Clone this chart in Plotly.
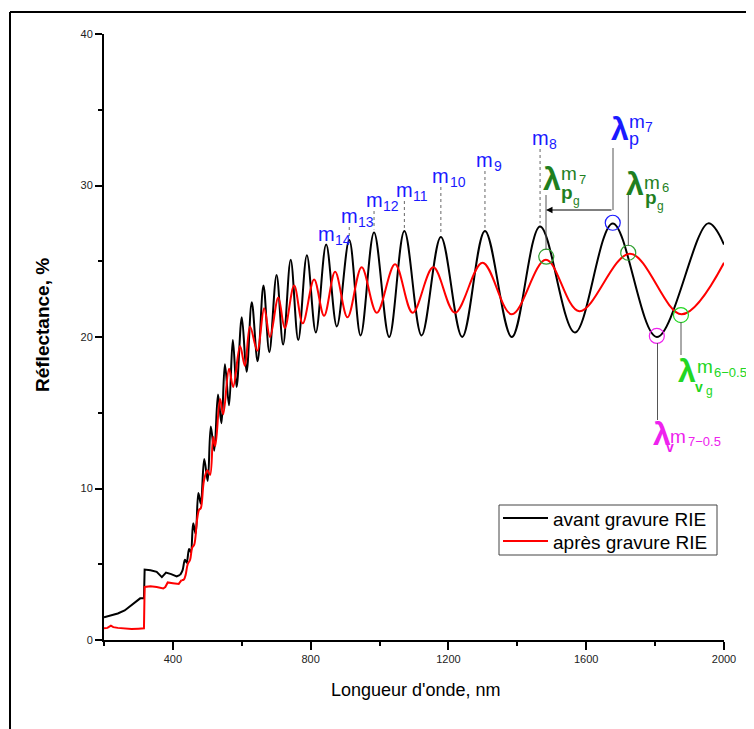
import plotly.graph_objects as go

# ---------------- data ----------------
# "avant gravure RIE" (black)
black_nm_low = [200, 215, 240, 260, 280, 295, 305, 316, 318, 335, 353, 368, 380, 395, 411, 421]
black_low = [1.5, 1.6, 1.75, 1.95, 2.3, 2.6, 2.75, 2.75, 4.65, 4.6, 4.5, 4.15, 4.45, 4.35, 4.2, 4.3]
black_nm_osc = [421, 428, 435, 440, 447, 452, 459, 466, 474, 481, 491, 501, 510, 520, 531, 541,
                551, 563, 574, 585, 600, 614, 629, 646, 663, 680, 701, 720, 742, 764, 789, 815,
                845, 876, 912, 945, 984, 1028, 1072, 1122, 1178, 1240, 1306, 1384, 1466, 1567,
                1677, 1805, 1954, 2000]
black_osc = [4.3, 4.6, 5.3, 5.1, 6.0, 5.8, 7.7, 7.0, 9.7, 9.0, 11.95, 10.5, 14.1, 12.5, 16.2, 14.3,
             18.2, 15.5, 19.8, 16.7, 21.3, 17.7, 22.3, 18.4, 23.4, 19.0, 24.1, 19.5, 25.1, 19.8, 25.4, 20.3,
             26.1, 20.7, 26.4, 20.1, 26.9, 20.0, 27.0, 20.1, 26.6, 20.0, 27.0, 20.0, 27.3, 20.3,
             27.5, 20.0, 27.5, 26.1]

# "après gravure RIE" (red)
red_nm_low = [200, 210, 220, 227, 240, 260, 280, 300, 316, 318, 335, 353, 372, 378, 385, 400, 417, 425]
red_low = [0.77, 0.8, 0.95, 0.85, 0.8, 0.75, 0.72, 0.75, 0.77, 3.5, 3.55, 3.5, 3.4, 3.5, 3.8, 3.75, 3.7, 3.95]
red_nm_osc = [425, 432, 437, 443, 450, 456, 462, 470, 476, 481, 490, 500, 508, 517, 523, 537, 546,
              563, 575, 595, 609, 624, 645, 665, 682, 706, 725, 752, 777, 810, 839, 871, 907, 948,
              992, 1045, 1096, 1156, 1219, 1299, 1384, 1483, 1580, 1727, 1877, 2000]
red_osc = [3.95, 4.0, 4.3, 5.0, 5.3, 6.1, 6.3, 7.9, 8.6, 8.7, 10.5, 11.2, 10.9, 13.4, 12.8, 15.9, 14.9,
           17.9, 16.7, 19.4, 18.1, 20.7, 19.1, 21.9, 20.0, 22.6, 20.6, 23.4, 20.9, 23.8, 21.4, 24.3, 21.3, 24.6,
           21.6, 24.8, 21.6, 24.6, 21.6, 24.9, 21.5, 25.1, 21.7, 25.5, 21.5, 24.9]

series_names = ["avant gravure RIE", "après gravure RIE"]

# interference orders marked on the black peaks
order_labels = ["14", "13", "12", "11", "10", "9", "8"]
order_peak_nm = [845, 912, 984, 1072, 1178, 1306, 1466]
order_peak_val = [26.1, 26.4, 26.9, 27.0, 26.6, 27.0, 27.3]

# circled extrema
circle_nm = [1677, 1484, 1722, 1805, 1875]
circle_val = [27.54, 25.3, 25.56, 20.07, 21.45]

x_ticks = [400, 800, 1200, 1600, 2000]
y_ticks = [0, 10, 20, 30, 40]

# ---------------- layout helpers (page pixel -> axis) ----------------
OFF = 8                      # default body margin of the html page
W, H = 754 - OFF, 729 - OFF  # figure size so that it fills the window exactly
X0P, X1P = 104, 724          # page pixels of x = 200 and x = 2000
Y0P, Y1P = 640, 34           # page pixels of y = 0 and y = 40
L, T = X0P - OFF, Y1P - OFF
R, B = 754 - X1P, 729 - Y0P


def nm_at(px):
    return 200 + (px - X0P) * 1800.0 / (X1P - X0P)


def val_at(py):
    return (Y0P - py) * 40.0 / (Y0P - Y1P)


def px_paper_x(px):
    return (px - X0P) / float(X1P - X0P)


def px_paper_y(py):
    return (Y0P - py) / float(Y0P - Y1P)


FONT = "Liberation Sans, Arial, sans-serif"
BLUE = "#1a1aff"
DGREEN = "#1f7f1f"
LGREEN = "#22d622"
MAGENTA = "#ee22ee"

annotations = []
shapes = []


def piece(px, base_py, text, size, color, bold=False, anchor="left"):
    annotations.append(dict(
        x=nm_at(px), y=val_at(base_py), xref="x", yref="y",
        text=("<b>%s</b>" % text) if bold else text, showarrow=False,
        xanchor=anchor, yanchor="middle", yshift=0.35 * size,
        borderpad=0, font=dict(size=size, color=color, family=FONT)))


def vline(px, py0, py1, color="#555555", dash="solid", width=1):
    shapes.append(dict(type="line", xref="x", yref="y", x0=nm_at(px), x1=nm_at(px),
                       y0=val_at(py0), y1=val_at(py1),
                       line=dict(color=color, width=width, dash=dash)))


# ---- order labels m_k with dotted leaders ----
m_baselines_py = [241, 223, 207, 197, 183, 167, 145]
for lab, nm, pv, bpy in zip(order_labels, order_peak_nm, order_peak_val, m_baselines_py):
    annotations.append(dict(x=nm, y=val_at(bpy), xref="x", yref="y", text="m", showarrow=False,
                            xanchor="center", yanchor="middle", yshift=0.35 * 20, borderpad=0,
                            font=dict(size=20, color=BLUE, family=FONT)))
    annotations.append(dict(x=nm, y=val_at(bpy), xref="x", yref="y", text=lab, showarrow=False,
                            xanchor="left", xshift=8, yanchor="middle", yshift=0.35 * 14 - 4,
                            borderpad=0, font=dict(size=14, color=BLUE, family=FONT)))
    top = val_at(bpy) - 4 * 40.0 / (Y0P - Y1P)
    bot = pv + 0.2
    if top > bot:
        shapes.append(dict(type="line", xref="x", yref="y", x0=nm, x1=nm, y0=top, y1=bot,
                           line=dict(color="#666666", width=1, dash="dot")))

# ---- lambda_p^{m7} (blue) ----
piece(610, 140, "λ", 32, BLUE, bold=True)
piece(628, 145, "p", 18, BLUE)
piece(628, 128, "m", 19, BLUE)
piece(644, 132, "7", 14, BLUE)
vline(613, 148, 210)
annotations.append(dict(x=nm_at(546), y=val_at(210), ax=nm_at(613), ay=val_at(210),
                        xref="x", yref="y", axref="x", ayref="y", text="", showarrow=True,
                        arrowhead=2, arrowsize=1.3, arrowwidth=1, arrowcolor="black"))

# ---- lambda_pg^{m7} (dark green) ----
piece(542, 190, "λ", 32, DGREEN, bold=True)
piece(560, 199, "p", 19, DGREEN, bold=True)
piece(572, 205, "g", 12, DGREEN)
piece(560, 180, "m", 19, DGREEN)
piece(578, 184, "7", 13, DGREEN)
vline(546, 195, 250)

# ---- lambda_pg^{m6} (dark green) ----
piece(625, 195, "λ", 32, DGREEN, bold=True)
piece(644, 204, "p", 19, DGREEN, bold=True)
piece(656, 210, "g", 12, DGREEN)
piece(643, 189, "m", 19, DGREEN)
piece(661, 192, "6", 13, DGREEN)
vline(628.3, 192, 246)

# ---- lambda_v^{m7-0.5} (magenta) ----
piece(652, 445, "λ", 32, MAGENTA, bold=True)
piece(665, 452, "v", 14, MAGENTA, bold=True)
piece(669, 443, "m", 19, MAGENTA)
piece(687, 446, "7−0.5", 13, MAGENTA)
vline(657.5, 343, 420)

# ---- lambda_vg^{m6-0.5} (light green) ----
piece(677, 382, "λ", 32, LGREEN, bold=True)
piece(694, 392, "v", 14, LGREEN, bold=True)
piece(705, 395, "g", 12, LGREEN)
piece(696, 373, "m", 19, LGREEN)
piece(713, 377, "6−0.5", 13, LGREEN)
vline(681, 322, 355)

# ---- axis titles ----
annotations.append(dict(x=px_paper_x(416), y=px_paper_y(690), xref="paper", yref="paper",
                        text="Longueur d'onde, nm", showarrow=False, xanchor="center",
                        yanchor="middle", font=dict(size=18, color="black", family=FONT)))
annotations.append(dict(x=px_paper_x(42), y=px_paper_y(325), xref="paper", yref="paper",
                        text="<b>Réflectance, %</b>", showarrow=False, textangle=-90,
                        xanchor="center", yanchor="middle",
                        font=dict(size=19, color="black", family=FONT)))

# ---- legend box (drawn to match the original compact legend) ----
shapes.append(dict(type="rect", xref="paper", yref="paper",
                   x0=px_paper_x(499), x1=px_paper_x(717), y0=px_paper_y(505), y1=px_paper_y(555),
                   line=dict(color="#444444", width=1), fillcolor="white", layer="above"))
for name, col, ly in zip(series_names, ["black", "#ff0000"], [518, 541]):
    shapes.append(dict(type="line", xref="paper", yref="paper",
                       x0=px_paper_x(503), x1=px_paper_x(548), y0=px_paper_y(ly), y1=px_paper_y(ly),
                       line=dict(color=col, width=2), layer="above"))
    annotations.append(dict(x=px_paper_x(552), y=px_paper_y(ly), xref="paper", yref="paper",
                            text=name, showarrow=False, xanchor="left", yanchor="middle",
                            yshift=-1, borderpad=0,
                            font=dict(size=19, color="black", family=FONT)))

# ---- outer frame (top and left edges visible) ----
shapes.append(dict(type="line", xref="paper", yref="paper", x0=px_paper_x(10), x1=px_paper_x(770),
                   y0=px_paper_y(12), y1=px_paper_y(12), line=dict(color="black", width=2)))
shapes.append(dict(type="line", xref="paper", yref="paper", x0=px_paper_x(10), x1=px_paper_x(10),
                   y0=px_paper_y(12), y1=px_paper_y(745), line=dict(color="black", width=2)))

# ---------------- figure ----------------
fig = go.Figure()
fig.add_trace(go.Scatter(x=black_nm_low, y=black_low, mode="lines", name=series_names[0],
                         legendgroup="b", showlegend=False, line=dict(color="black", width=2)))
fig.add_trace(go.Scatter(x=black_nm_osc, y=black_osc, mode="lines", name=series_names[0],
                         legendgroup="b", showlegend=False,
                         line=dict(color="black", width=2, shape="spline", smoothing=1.0)))
fig.add_trace(go.Scatter(x=red_nm_low, y=red_low, mode="lines", name=series_names[1],
                         legendgroup="r", showlegend=False, line=dict(color="#ff0000", width=2)))
fig.add_trace(go.Scatter(x=red_nm_osc, y=red_osc, mode="lines", name=series_names[1],
                         legendgroup="r", showlegend=False,
                         line=dict(color="#ff0000", width=2, shape="spline", smoothing=1.0)))
fig.add_trace(go.Scatter(x=circle_nm, y=circle_val, mode="markers", showlegend=False,
                         hoverinfo="skip",
                         marker=dict(symbol="circle-open", size=15,
                                     color=[BLUE, "#2f9f2f", "#2f9f2f", MAGENTA, LGREEN],
                                     line=dict(width=1.2))))

fig.update_layout(
    width=W, height=H, autosize=False,
    margin=dict(l=L, r=R, t=T, b=B, pad=0),
    paper_bgcolor="white", plot_bgcolor="white",
    font=dict(family=FONT, color="black"),
    showlegend=False,
    annotations=annotations,
    shapes=shapes,
)
fig.update_xaxes(range=[200, 2000], showgrid=False, zeroline=False, showline=True,
                 linecolor="black", linewidth=2, ticks="outside", ticklen=8, tickwidth=2,
                 tickcolor="black", tickvals=x_ticks, ticktext=[str(v) for v in x_ticks],
                 tickfont=dict(size=11, color="#222222", family=FONT),
                 minor=dict(tickvals=[200, 600, 1000, 1400, 1800], ticks="outside",
                            ticklen=4, tickwidth=2, tickcolor="black"))
fig.update_yaxes(range=[0, 40], showgrid=False, zeroline=False, showline=True,
                 linecolor="black", linewidth=2, ticks="outside", ticklen=7, tickwidth=2,
                 tickcolor="black", tickvals=y_ticks, ticktext=[str(v) for v in y_ticks],
                 tickfont=dict(size=11, color="#222222", family=FONT),
                 minor=dict(tickvals=[5, 15, 25, 35], ticks="outside",
                            ticklen=4, tickwidth=2, tickcolor="black"))

fig.write_html("out.html")
